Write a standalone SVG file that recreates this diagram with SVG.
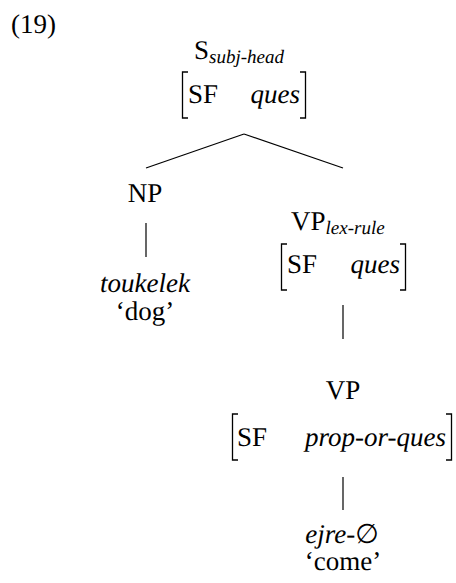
<svg xmlns="http://www.w3.org/2000/svg" width="456" height="583" viewBox="0 0 456 583" text-rendering="geometricPrecision">
<style>
text{font-family:"Liberation Serif","Times New Roman","DejaVu Serif",serif;fill:#000;font-size:27px}
.it{font-style:italic}
.sub{font-style:italic;font-size:19px}
.c{text-anchor:middle}
.e{text-anchor:end}
.ln{stroke:#000;stroke-width:1.2;fill:none}
.br{stroke:#000;stroke-width:1.3;fill:none}
</style>
<rect width="456" height="583" fill="#fff"/>
<text x="11" y="33">(19)</text>
<g id="S">
<text x="194" y="59">S<tspan class="sub" dy="4">subj-head</tspan></text>
<path class="br" d="M188,72 H182.5 V118 H188 M300,72 H305.5 V118 H300"/>
<text x="188" y="103">SF</text>
<text class="it e" x="300" y="103">ques</text>
</g>
<g id="NP">
<text class="c" x="145" y="202">NP</text>
</g>
<g id="toukelek">
<text class="it c" x="145" y="292">toukelek</text>
<text class="c" x="145" y="320">‘dog’</text>
</g>
<g id="VPlex">
<text x="291" y="230">VP<tspan class="sub" dy="4">lex-rule</tspan></text>
<path class="br" d="M287,244 H281.5 V290 H287 M400,244 H405.5 V290 H400"/>
<text x="287" y="273">SF</text>
<text class="it e" x="400" y="273">ques</text>
</g>
<g id="VP">
<text class="c" x="343" y="399">VP</text>
<path class="br" d="M238,414 H232.5 V460 H238 M446,414 H451.5 V460 H446"/>
<text x="237" y="446">SF</text>
<text class="it e" x="446" y="446">prop-or-ques</text>
</g>
<g id="ejre">
<text class="c" x="342" y="543"><tspan class="it">ejre-</tspan>∅</text>
<text class="c" x="343" y="570">‘come’</text>
</g>
<g id="connectors">
<line class="ln" x1="244" y1="134" x2="146" y2="168"/>
<line class="ln" x1="244" y1="134" x2="343" y2="168"/>
<line class="ln" x1="146" y1="223" x2="146" y2="257"/>
<line class="ln" x1="343" y1="305" x2="343" y2="339"/>
<line class="ln" x1="343" y1="477" x2="343" y2="510"/>
</g>
</svg>
